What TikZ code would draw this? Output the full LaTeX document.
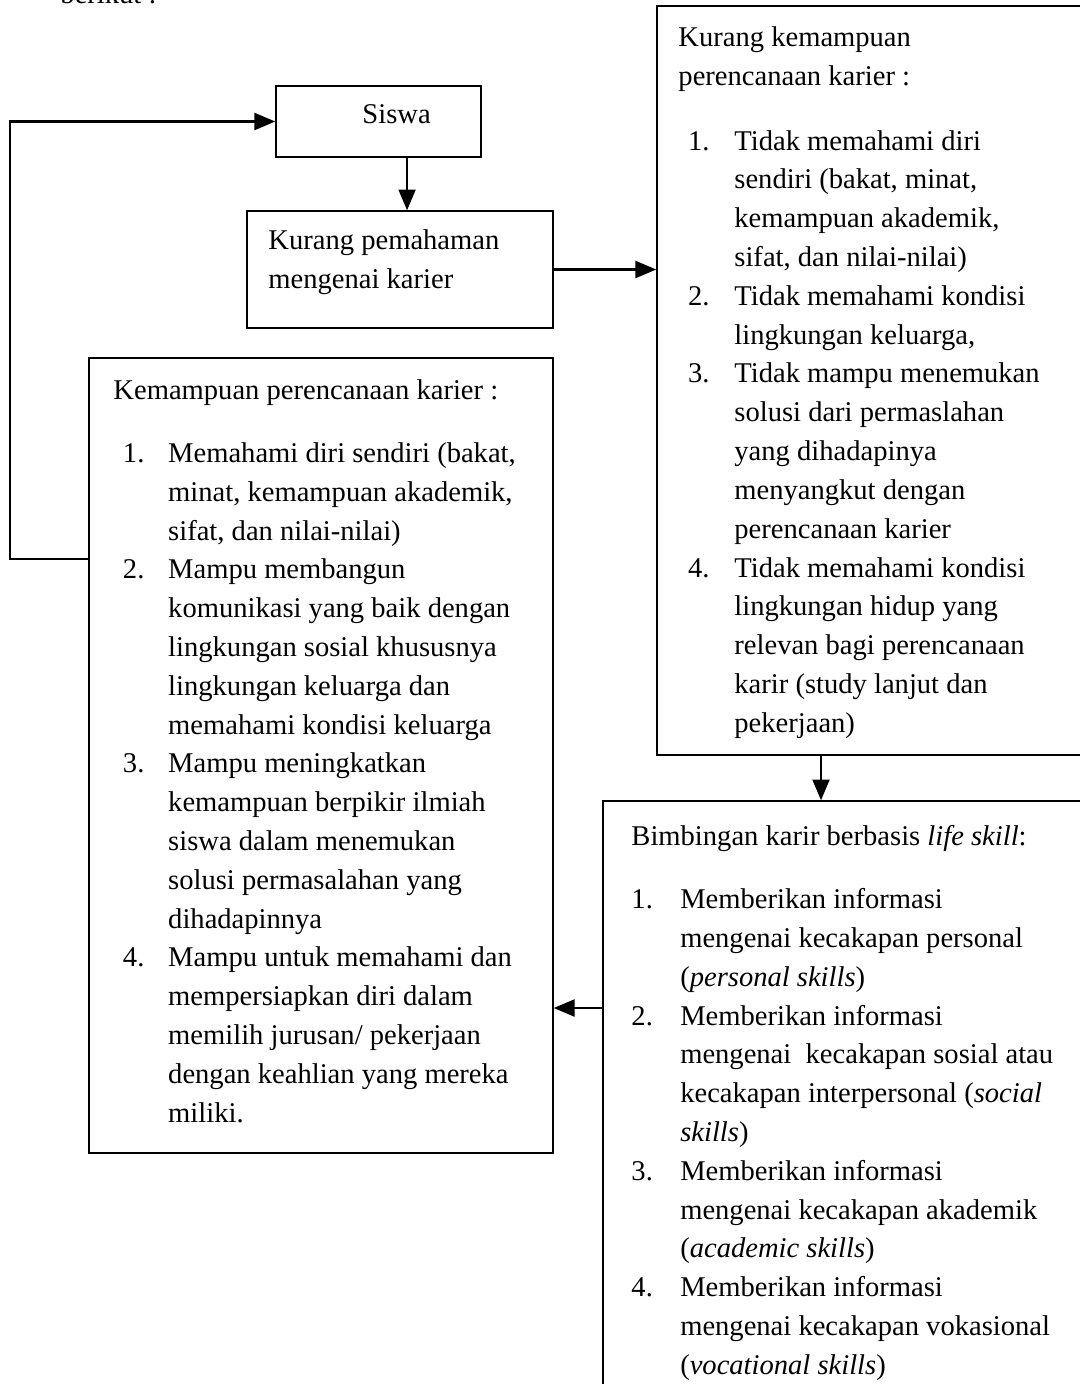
\documentclass[tikz,border=0pt]{standalone}
\usepackage{fontspec}
\setmainfont{Liberation Serif}
\usetikzlibrary{arrows,fit,positioning}

\begin{document}
\begin{tikzpicture}[->,>=triangle 45,x=0.42pt,y=-0.42pt,
    box/.style={draw,rectangle,line width=0.7pt,inner sep=0pt},
    txt/.style={align=left,inner sep=0pt,anchor=north west,
        font=\fontsize{12pt}{16.3pt}\selectfont},
    link/.style={line width=1pt}]

\useasboundingbox (0,0) rectangle (1080,1384);

% sisa kalimat di atas gambar
\node[txt,anchor=base west] (atas) at (60,3) {berikut :};

% kotak
\node[box,fit={(276,86)(481,157)}] (siswa) {};
\node[box,fit={(247,211)(553,328)}] (paham) {};
\node[box,fit={(657,6)(1100,755)}] (kurangmampu) {};
\node[box,fit={(89,358)(553,1153)}] (mampu) {};
\node[box,fit={(603,801)(1100,1420)}] (bimbingan) {};

% isi kotak
\node[txt,anchor=base west] (t-siswa) at (362,123) {Siswa};
\node[txt] (t-paham) at (268,229) {Kurang pemahaman\\mengenai karier};

\node[txt] (t-kurangmampu) at (678,26) {Kurang kemampuan\\
perencanaan karier :\\[11pt]
\hspace*{4pt}\makebox[19.5pt][l]{1.}Tidak memahami diri\\
\hspace*{23.5pt}sendiri (bakat, minat,\\
\hspace*{23.5pt}kemampuan akademik,\\
\hspace*{23.5pt}sifat, dan nilai-nilai)\\
\hspace*{4pt}\makebox[19.5pt][l]{2.}Tidak memahami kondisi\\
\hspace*{23.5pt}lingkungan keluarga,\\
\hspace*{4pt}\makebox[19.5pt][l]{3.}Tidak mampu menemukan\\
\hspace*{23.5pt}solusi dari permaslahan\\
\hspace*{23.5pt}yang dihadapinya\\
\hspace*{23.5pt}menyangkut dengan\\
\hspace*{23.5pt}perencanaan karier\\
\hspace*{4pt}\makebox[19.5pt][l]{4.}Tidak memahami kondisi\\
\hspace*{23.5pt}lingkungan hidup yang\\
\hspace*{23.5pt}relevan bagi perencanaan\\
\hspace*{23.5pt}karir (study lanjut dan\\
\hspace*{23.5pt}pekerjaan)};

\node[txt] (t-mampu) at (113,379) {Kemampuan perencanaan karier :\\[10.2pt]
\hspace*{4pt}\makebox[19pt][l]{1.}Memahami diri sendiri (bakat,\\
\hspace*{23pt}minat, kemampuan akademik,\\
\hspace*{23pt}sifat, dan nilai-nilai)\\
\hspace*{4pt}\makebox[19pt][l]{2.}Mampu membangun\\
\hspace*{23pt}komunikasi yang baik dengan\\
\hspace*{23pt}lingkungan sosial khususnya\\
\hspace*{23pt}lingkungan keluarga dan\\
\hspace*{23pt}memahami kondisi keluarga\\
\hspace*{4pt}\makebox[19pt][l]{3.}Mampu meningkatkan\\
\hspace*{23pt}kemampuan berpikir ilmiah\\
\hspace*{23pt}siswa dalam menemukan\\
\hspace*{23pt}solusi permasalahan yang\\
\hspace*{23pt}dihadapinnya\\
\hspace*{4pt}\makebox[19pt][l]{4.}Mampu untuk memahami dan\\
\hspace*{23pt}mempersiapkan diri dalam\\
\hspace*{23pt}memilih jurusan/ pekerjaan\\
\hspace*{23pt}dengan keahlian yang mereka\\
\hspace*{23pt}miliki.};

\node[txt] (t-bimbingan) at (631,825) {Bimbingan karir berbasis \textit{life skill}:\\[10.2pt]
\makebox[20.5pt][l]{1.}Memberikan informasi\\
\hspace*{20.5pt}mengenai kecakapan personal\\
\hspace*{20.5pt}(\textit{personal skills})\\
\makebox[20.5pt][l]{2.}Memberikan informasi\\
\hspace*{20.5pt}mengenai\ \ kecakapan sosial atau\\
\hspace*{20.5pt}kecakapan interpersonal (\textit{social}\\
\hspace*{20.5pt}\textit{skills})\\
\makebox[20.5pt][l]{3.}Memberikan informasi\\
\hspace*{20.5pt}mengenai kecakapan akademik\\
\hspace*{20.5pt}(\textit{academic skills})\\
\makebox[20.5pt][l]{4.}Memberikan informasi\\
\hspace*{20.5pt}mengenai kecakapan vokasional\\
\hspace*{20.5pt}(\textit{vocational skills})};

% panah
\coordinate (turun) at (821,0);
\coordinate (balik) at (0,1008);
\coordinate (putar) at (10,559);

\draw[link] ([xshift=12pt]siswa.south) -- ([xshift=12pt]siswa.south |- paham.north);
\draw[link] (paham.east) -- (paham.east -| kurangmampu.west);
\draw[link] (turun |- kurangmampu.south) -- (turun |- bimbingan.north);
\draw[link] (balik -| bimbingan.west) -- (balik -| mampu.east);
\draw[link] (putar -| mampu.west) -- (putar) |- (siswa.west);

\end{tikzpicture}
\end{document}
